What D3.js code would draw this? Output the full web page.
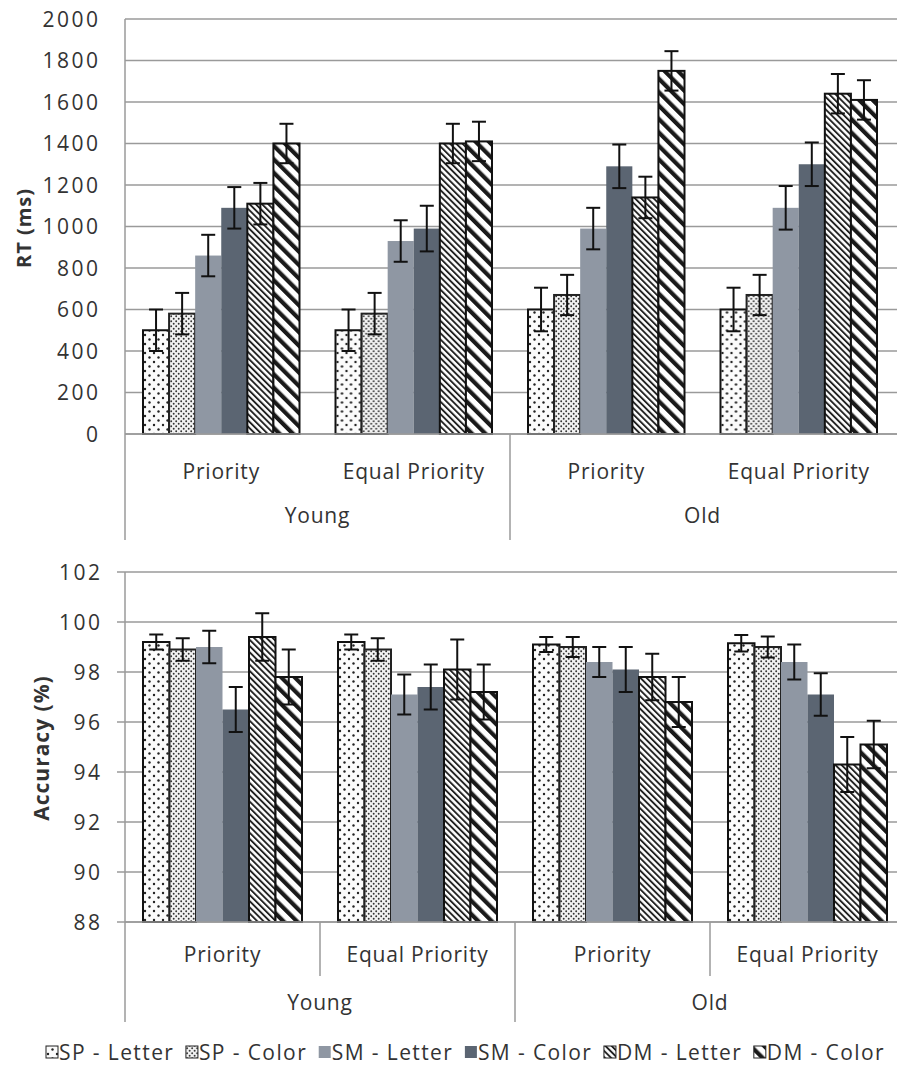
<!DOCTYPE html>
<html>
<head>
<meta charset="utf-8">
<script src="https://cdn.jsdelivr.net/npm/d3@7"></script>
<style>
  body { margin: 0; background: #fff; }
  text { font-family: "Open Sans", Lato, sans-serif; fill: #333; }
</style>
</head>
<body>
<div id="chart"></div>
<script>
// categories and series
var subCats = ["Priority", "Equal Priority", "Priority", "Equal Priority"];
var ages = ["Young", "Old"];
var series = ["SP - Letter", "SP - Color", "SM - Letter", "SM - Color", "DM - Letter", "DM - Color"];

// RT (ms), one row per category
var rtMeans = [
    [500, 580, 860, 1090, 1110, 1400],
    [500, 580, 930, 990, 1400, 1410],
    [600, 670, 990, 1290, 1140, 1750],
    [600, 670, 1090, 1300, 1640, 1610]
];
var rtErr = [
    [100, 100, 100, 100, 100, 95],
    [100, 100, 100, 110, 95, 95],
    [105, 97, 100, 105, 100, 95],
    [105, 97, 105, 105, 95, 95]
];

// Accuracy (%)
var accMeans = [
    [99.2, 98.9, 99.0, 96.5, 99.4, 97.8],
    [99.2, 98.9, 97.1, 97.4, 98.1, 97.2],
    [99.1, 99.0, 98.4, 98.1, 97.8, 96.8],
    [99.15, 99.0, 98.4, 97.1, 94.3, 95.1]
];
var accErr = [
    [0.3, 0.45, 0.65, 0.9, 0.95, 1.1],
    [0.3, 0.45, 0.8, 0.9, 1.2, 1.1],
    [0.3, 0.4, 0.6, 0.9, 0.93, 1.0],
    [0.33, 0.42, 0.7, 0.85, 1.1, 0.95]
];

var rtTicks = d3.range(0, 2001, 200);
var accTicks = d3.range(88, 103, 2);

var W = 897, H = 1077;
var svg = d3.select("#chart").append("svg")
    .attr("width", W).attr("height", H);

// fill patterns
var defs = svg.append("defs");

var p1 = defs.append("pattern").attr("id", "p0")
    .attr("patternUnits", "userSpaceOnUse").attr("width", 9).attr("height", 9);
p1.append("rect").attr("width", 9).attr("height", 9).attr("fill", "#fbfbfb");
p1.append("circle").attr("cx", 2).attr("cy", 2).attr("r", 1.2).attr("fill", "#222");
p1.append("circle").attr("cx", 6.5).attr("cy", 6.5).attr("r", 1.2).attr("fill", "#222");

var p2 = defs.append("pattern").attr("id", "p1")
    .attr("patternUnits", "userSpaceOnUse").attr("width", 5).attr("height", 5);
p2.append("rect").attr("width", 5).attr("height", 5).attr("fill", "#f2f2f2");
p2.append("circle").attr("cx", 1.2).attr("cy", 1.2).attr("r", 0.95).attr("fill", "#333");
p2.append("circle").attr("cx", 3.7).attr("cy", 3.7).attr("r", 0.95).attr("fill", "#333");

var p5 = defs.append("pattern").attr("id", "p4")
    .attr("patternUnits", "userSpaceOnUse").attr("width", 4.4).attr("height", 10)
    .attr("patternTransform", "rotate(-45)");
p5.append("rect").attr("width", 4.4).attr("height", 10).attr("fill", "#fff");
p5.append("rect").attr("width", 1.9).attr("height", 10).attr("fill", "#222");

var p6 = defs.append("pattern").attr("id", "p5")
    .attr("patternUnits", "userSpaceOnUse").attr("width", 9.5).attr("height", 10)
    .attr("patternTransform", "rotate(-45)");
p6.append("rect").attr("width", 9.5).attr("height", 10).attr("fill", "#fff");
p6.append("rect").attr("width", 4.2).attr("height", 10).attr("fill", "#1a1a1a");

var fills = ["url(#p0)", "url(#p1)", "#8f97a3", "#5b6572", "url(#p4)", "url(#p5)"];
var strokes = ["#111", "#222", "none", "none", "#111", "#111"];

function drawPanel(cfg) {
    var g = svg.append("g");

    var y = d3.scaleLinear().domain(cfg.domain).range(cfg.yRange);
    var x = d3.scaleBand().domain(d3.range(subCats.length)).range(cfg.xRange);
    var xs = d3.scaleBand().domain(series)
        .range([cfg.pad, x.bandwidth() - cfg.pad]);

    // gridlines
    g.selectAll(".grid").data(cfg.ticks).join("line")
        .attr("x1", cfg.xRange[0] - cfg.tickLen).attr("x2", W)
        .attr("y1", d => y(d)).attr("y2", d => y(d))
        .attr("stroke", "#9a9a9a").attr("stroke-width", 1.5);

    // tick labels (letter-spacing adds trailing space, so nudge right)
    g.selectAll(".tl").data(cfg.ticks).join("text")
        .attr("x", cfg.labelX + 2.5).attr("y", d => y(d)).attr("dy", "0.36em")
        .attr("text-anchor", "end")
        .style("font-size", "21px")
        .style("letter-spacing", "2.5px")
        .text(d => d);

    // axis line
    g.append("line")
        .attr("x1", cfg.xRange[0]).attr("x2", cfg.xRange[0])
        .attr("y1", cfg.yRange[1]).attr("y2", cfg.yRange[0] + cfg.catDepth)
        .attr("stroke", "#9a9a9a").attr("stroke-width", 1.5);

    // bars
    var grp = g.selectAll(".grp").data(cfg.means).join("g")
        .attr("transform", (d, i) => `translate(${x(i)},0)`);

    grp.selectAll("rect").data((d, i) => d.map((v, j) => ({ v: v, e: cfg.errs[i][j], s: j })))
        .join("rect")
        .attr("x", d => xs(series[d.s]))
        .attr("width", xs.bandwidth())
        .attr("y", d => y(d.v))
        .attr("height", d => y(cfg.domain[0]) - y(d.v))
        .attr("fill", d => fills[d.s])
        .attr("stroke", d => strokes[d.s])
        .attr("stroke-width", 2);

    // error bars
    var eb = grp.selectAll(".eb").data((d, i) => d.map((v, j) => ({ v: v, e: cfg.errs[i][j], s: j })))
        .join("g")
        .attr("transform", d => `translate(${xs(series[d.s]) + xs.bandwidth() / 2},0)`);
    eb.append("line")
        .attr("y1", d => y(d.v + d.e)).attr("y2", d => y(Math.max(d.v - d.e, cfg.domain[0])))
        .attr("stroke", "#111").attr("stroke-width", 2);
    eb.append("line").attr("x1", -7).attr("x2", 7)
        .attr("y1", d => y(d.v + d.e)).attr("y2", d => y(d.v + d.e))
        .attr("stroke", "#111").attr("stroke-width", 2);
    eb.append("line").attr("x1", -7).attr("x2", 7)
        .attr("y1", d => y(d.v - d.e)).attr("y2", d => y(d.v - d.e))
        .attr("stroke", "#111").attr("stroke-width", 2);

    // baseline on top of bars
    g.append("line")
        .attr("x1", cfg.xRange[0]).attr("x2", W)
        .attr("y1", y(cfg.domain[0])).attr("y2", y(cfg.domain[0]))
        .attr("stroke", "#9a9a9a").attr("stroke-width", 1.5);

    // category axis
    var base = y(cfg.domain[0]);
    g.selectAll(".sub").data(subCats).join("text")
        .attr("x", (d, i) => x(i) + x.bandwidth() / 2)
        .attr("y", base + cfg.subY)
        .attr("text-anchor", "middle")
        .style("font-size", "21px")
        .style("letter-spacing", "0.8px")
        .text(d => d);

    g.selectAll(".age").data(ages).join("text")
        .attr("x", (d, i) => x(i * 2) + x.bandwidth())
        .attr("y", base + cfg.ageY)
        .attr("text-anchor", "middle")
        .style("font-size", "21px")
        .style("letter-spacing", "0.8px")
        .text(d => d);

    // dividers between ages
    g.append("line")
        .attr("x1", x(2)).attr("x2", x(2))
        .attr("y1", base).attr("y2", base + cfg.catDepth)
        .attr("stroke", "#9a9a9a").attr("stroke-width", 1.5);
    if (cfg.subDividers) {
        [1, 3].forEach(function (i) {
            g.append("line")
                .attr("x1", x(i)).attr("x2", x(i))
                .attr("y1", base).attr("y2", base + cfg.subDepth)
                .attr("stroke", "#9a9a9a").attr("stroke-width", 1.5);
        });
    }

    // y title
    g.append("text")
        .attr("transform", `translate(${cfg.titleX},${cfg.titleY}) rotate(-90)`)
        .attr("text-anchor", "middle")
        .attr("dy", "0.35em")
        .style("font-size", cfg.titleSize)
        .style("font-weight", "bold")
        .style("letter-spacing", "1px")
        .text(cfg.title);
}

drawPanel({
    means: rtMeans, errs: rtErr, domain: [0, 2000], ticks: rtTicks,
    yRange: [434, 19], xRange: [125, 895], pad: 18, tickLen: 0,
    labelX: 98, catDepth: 106, subY: 45, ageY: 89, subDividers: false,
    title: "RT (ms)", titleX: 24, titleY: 228, titleSize: "20px"
});

drawPanel({
    means: accMeans, errs: accErr, domain: [88, 102], ticks: accTicks,
    yRange: [922, 572], xRange: [125, 905], pad: 18, tickLen: 8,
    labelX: 100, catDepth: 100, subY: 40, subDepth: 54, ageY: 88, subDividers: true,
    title: "Accuracy  (%)", titleX: 42, titleY: 748, titleSize: "21px"
});

// legend: measure items, then spread them across the reference's span
var leg = svg.append("g").attr("transform", "translate(0,1052)");
var items = series.map(function (s, i) {
    var it = leg.append("g");
    it.append("rect")
        .attr("x", 0).attr("y", -6).attr("width", 12).attr("height", 12)
        .attr("fill", fills[i])
        .attr("stroke", i == 2 || i == 3 ? "none" : "#222").attr("stroke-width", 1);
    var t = it.append("text")
        .attr("x", 13).attr("dy", "0.36em")
        .style("font-size", "21px")
        .style("letter-spacing", "1.4px")
        .text(s);
    return { g: it, w: 13 + t.node().getComputedTextLength() };
});
var total = d3.sum(items, d => d.w);
var gap = (885 - 46 - total) / (items.length - 1);
var xpos = 46;
items.forEach(function (d) {
    d.g.attr("transform", `translate(${xpos},0)`);
    xpos += d.w + gap;
});
</script>
</body>
</html>
